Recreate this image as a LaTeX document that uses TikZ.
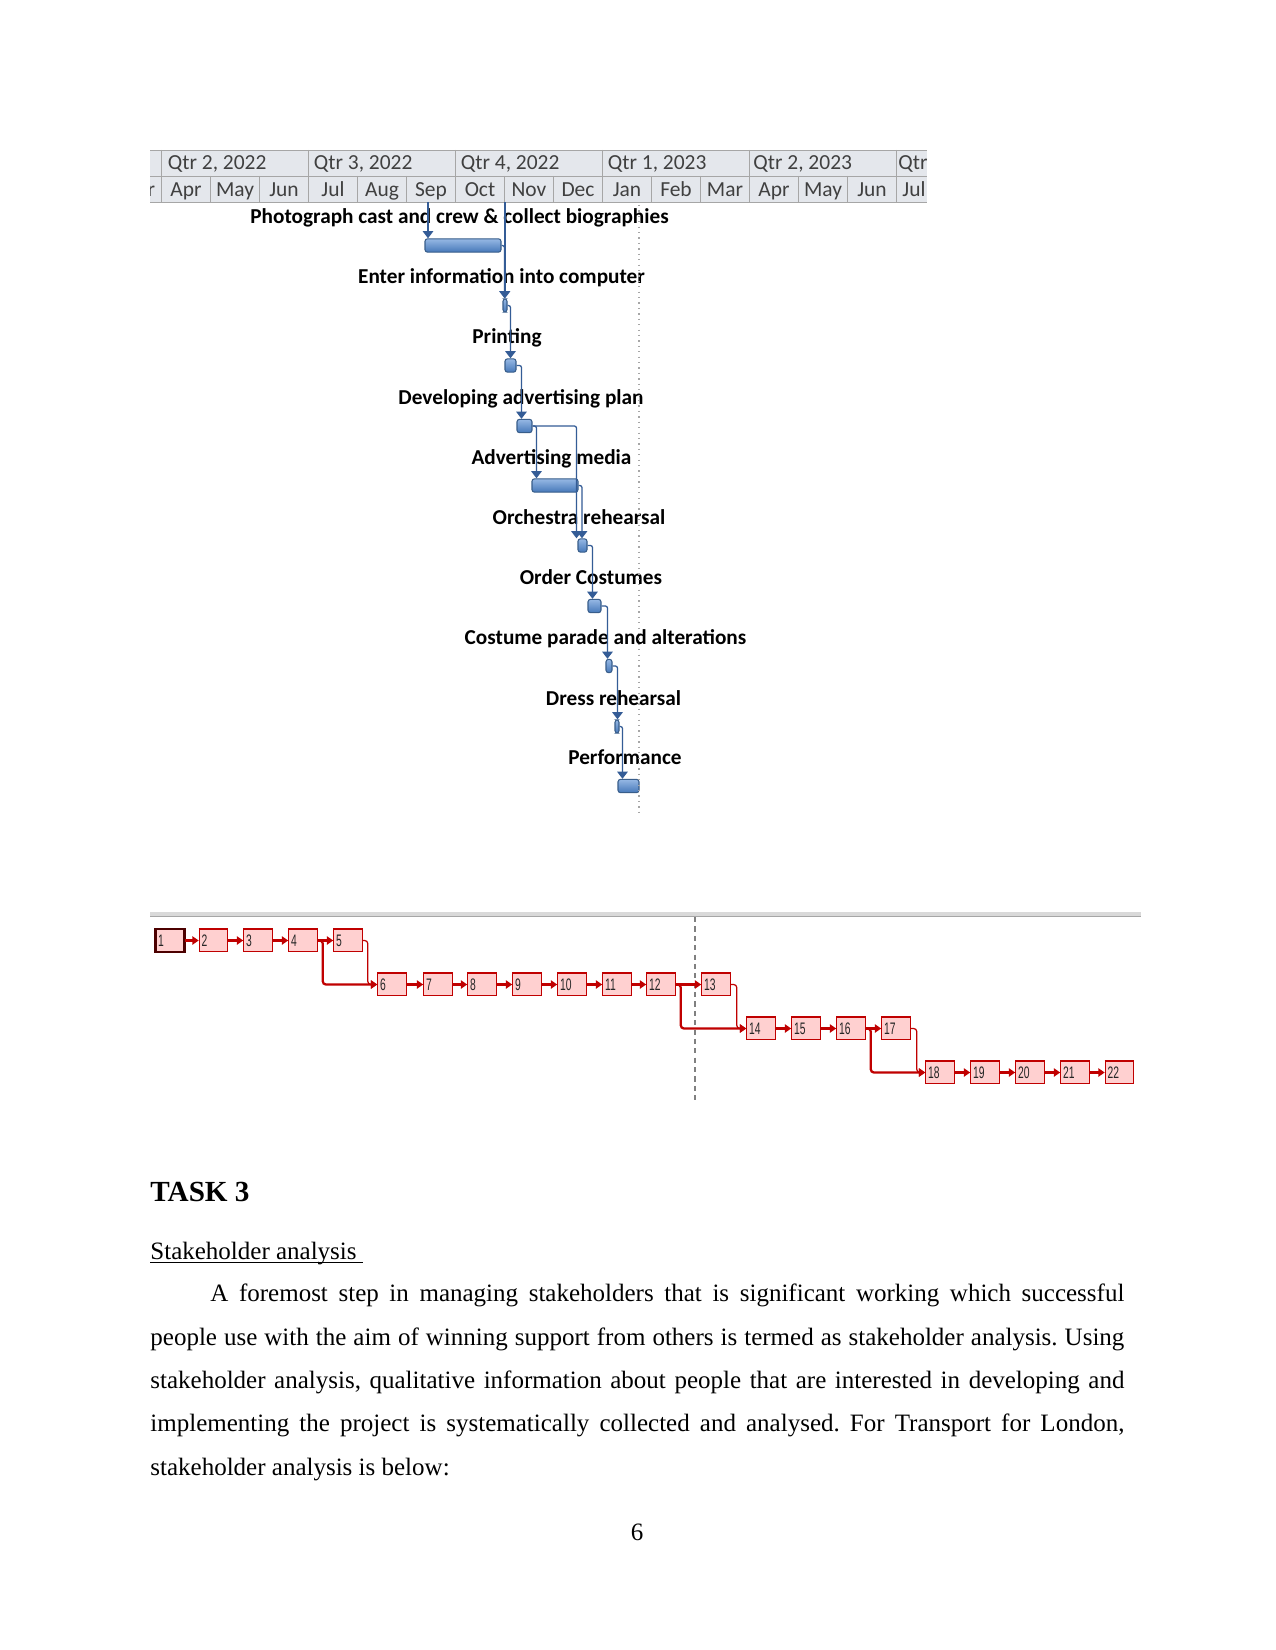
\documentclass[tikz,border=0pt]{standalone}
\usepackage{fontspec}
\setmainfont{Liberation Serif}
\newfontfamily\calfont{Carlito}
\newfontfamily\netfont[FakeStretch=0.62]{Liberation Sans}
\usetikzlibrary{arrows.meta,calc}

\definecolor{hdrbg}{RGB}{228,231,236}
\definecolor{hdrline}{RGB}{166,166,166}
\definecolor{hdrtext}{RGB}{64,64,64}
\definecolor{bartop}{RGB}{150,184,228}
\definecolor{barbot}{RGB}{70,120,185}
\definecolor{barline}{RGB}{56,93,138}
\definecolor{linkblue}{RGB}{52,92,150}
\definecolor{npink}{RGB}{255,208,208}
\definecolor{nred}{RGB}{192,0,0}
\definecolor{nband}{RGB}{217,217,217}

\tikzset{
  hdrtxt/.style={font=\fontsize{10.3}{12}\selectfont\calfont,text=hdrtext,inner sep=0pt},
  gbar/.style={draw=barline,line width=.5pt,top color=bartop,bottom color=barbot,rounded corners=1.2pt,inner sep=0pt,minimum height=6.4pt},
  glabel/.style={font=\fontsize{10.2}{12}\selectfont\calfont\bfseries,inner sep=0pt,anchor=base},
  glink/.style={draw=linkblue,line width=.6pt,rounded corners=1pt,-{Triangle[width=5pt,length=3.4pt]}},
  nbox/.style={draw=nred,fill=npink,line width=.5pt,inner xsep=1.2pt,inner ysep=0pt,text width=11.3pt,minimum height=10.6pt,align=left,font=\fontsize{8}{8}\selectfont\netfont\color{black!85}},
  nlink/.style={draw=nred,line width=1.1pt,rounded corners=1.5pt,-{Triangle[width=3.9pt,length=3pt]}},
  nthin/.style={nlink,line width=.6pt},
  body/.style={font=\fontsize{12}{14}\selectfont,inner sep=0pt,anchor=base west}
}

\begin{document}
\frenchspacing
\begin{tikzpicture}[x=0.48pt,y=-0.48pt]
\useasboundingbox[fill=white] (0,0) rectangle (1275,1650);
% gantt header
\fill[hdrbg] (150,150) rectangle (927,202);
\draw[hdrline] (150,150)--(927,150) (150,176)--(927,176) (150,202)--(927,202);
\foreach \k in {0,...,5}\draw[hdrline] (161.5+147*\k,150)--(161.5+147*\k,176);
\foreach \k in {0,...,15}\draw[hdrline] (161.5+49*\k,176)--(161.5+49*\k,202);
\begin{scope}
\clip (150,150) rectangle (927,202);
\foreach \q/\x [count=\k from 0] in {{Qtr 2, 2022}/167.5,{Qtr 3, 2022}/313.5,{Qtr 4, 2022}/460.5,{Qtr 1, 2023}/607.5,{Qtr 2, 2023}/753,{Qtr 3, 2023}/898}
  \node[hdrtxt,anchor=base west] (q\k) at (\x,170) {\q};
\foreach \m [count=\k from 0] in {Mar,Apr,May,Jun,Jul,Aug,Sep,Oct,Nov,Dec,Jan,Feb,Mar,Apr,May,Jun}
  \node[hdrtxt,anchor=base] (m\k) at (137+49*\k,196.5) {\m};
\node[hdrtxt,anchor=base] (m16) at (914,196.5) {Jul};
\end{scope}
% gantt tasks
\foreach \i/\x/\y/\w in {1/463/245.5/76,2/505/305.5/4,3/510.5/365.5/11,4/524.5/426/15,5/555/485.5/46,6/582.5/545.5/9,7/594.5/606/13,8/609/666/6,9/617/726.5/4,10/628.5/786/21}
  \node[gbar,minimum width=\w*0.48pt] (t\i) at (\x,\y) {};
\foreach \i/\txt in {1/Photograph cast and crew \& collect biographies,2/Enter information into computer,3/Printing,4/Developing advertising plan,5/Advertising media,6/Orchestra rehearsal,7/Order Costumes,8/Costume parade and alterations,9/Dress rehearsal,10/Performance}
  \node[glabel] (l\i) at ($(t\i.center)+(-3.5,-21.5)$) {\txt};
\coordinate (h1) at (428,202);
\coordinate (h2) at (505,202);
\draw[glink] (h1) -- (h1 |- t1.north);
\draw[glink] (h2) -- (h2 |- t2.north);
\foreach \a/\b/\dx in {1/2/2,2/3/6,3/4/5,4/5/5,4/6/-1,5/6/4.5,6/7/5,7/8/2,8/9/3,9/10/5}
  \draw[glink] (t\a.east) -| ($(t\b.north west)+(\dx,0)$);
\draw[gray!70,dotted,line width=.6pt] (639,205)--(639,812);
% network
\fill[nband] (150,912) rectangle (1141,916);
\draw[hdrline] (150,916.5)--(1141,916.5);
\draw[gray,dash pattern=on 2.5pt off 2pt,line width=.5pt] (695,917)--(695,1102);
\foreach \i/\x/\r in {1/170/1,2/213.5/1,3/258/1,4/303/1,5/348/1,6/392/2,7/438/2,8/482/2,9/527/2,10/572/2,11/617/2,12/661/2,13/716/2,14/761/3,15/806/3,16/851/3,17/896/3,18/940/4,19/985/4,20/1030/4,21/1075/4,22/1119.5/4}
  \node[nbox] (n\i) at (\x,896.5+44*\r) {\i};
\draw[black!70!red,line width=1.3pt] (n1.north west) rectangle (n1.south east);
\foreach \i in {2,...,22}\draw[nred,line width=1.1pt] (n\i.north west)--(n\i.north east);
\foreach \a/\b in {1/2,2/3,3/4,4/5,6/7,7/8,8/9,9/10,10/11,11/12,12/13,14/15,15/16,16/17,18/19,19/20,20/21,21/22}
  \draw[nlink] (n\a) -- (n\b);
\draw[nlink] (n4.east) -- ++(5,0) |- (n6.west);
\draw[nthin] (n5.east) -- ++(5,0) |- (n6.west);
\draw[nlink] (n12.east) -- ++(5,0) |- (n14.west);
\draw[nthin] (n13.east) -- ++(6,0) |- (n14.west);
\draw[nlink] (n16.east) -- ++(5,0) |- (n18.west);
\draw[nthin] (n17.east) -- ++(6,0) |- (n18.west);
% text
\node[body,font=\fontsize{14}{16}\selectfont\bfseries] (task) at (150,1201.7) {TASK 3};
\node[body] (sub) at (150,1259) {\underline{\smash{Stakeholder analysis\ }}};
\node[body] (p1) at (210,1301.7) {\hbox to 438.7pt{A foremost step in managing stakeholders that is significant working which successful}};
\node[body] (p2) at (150,1345) {\hbox to 467.5pt{people use with the aim of winning support from others is termed as stakeholder analysis. Using}};
\node[body] (p3) at (150,1388.3) {\hbox to 467.5pt{stakeholder analysis, qualitative information about people that are interested in developing and}};
\node[body] (p4) at (150,1431.6) {\hbox to 467.5pt{implementing the project is systematically collected and analysed. For Transport for London,}};
\node[body] (p5) at (150,1475) {stakeholder analysis is below:};
\node[body,anchor=base] (pg) at (637,1540) {6};
\end{tikzpicture}
\end{document}
